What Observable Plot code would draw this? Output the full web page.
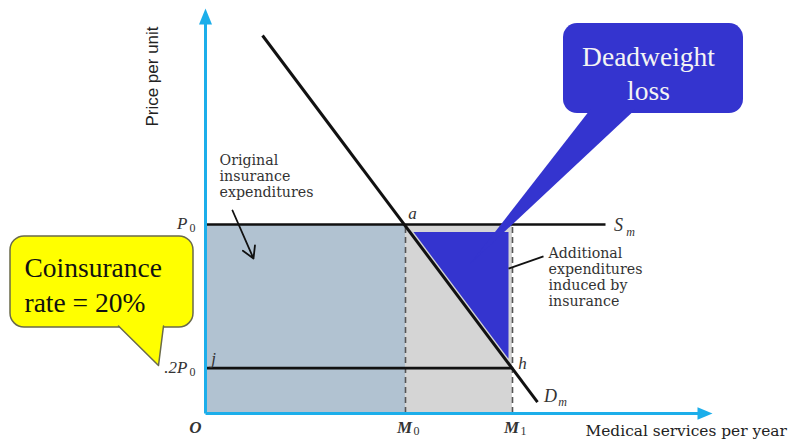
<!DOCTYPE html>
<html>
<head>
<meta charset="utf-8">
<script src="https://cdn.jsdelivr.net/npm/d3@7"></script>
<script src="https://cdn.jsdelivr.net/npm/@observablehq/plot@0.6"></script>
<style>
  html, body { margin: 0; padding: 0; background: #fff; }
  #chart svg { display: block; }
</style>
</head>
<body>
<div id="chart"></div>
<script>
// ---- values (quantity units on x, price units on y) ----
const quantityNames = ["M", "M"];
const quantitySubs = ["0", "1"];
const quantityValues = [4.0, 6.14];          // M0, M1
const priceNames = ["P", ".2P"];
const priceSubs = ["0", "0"];
const priceValues = [10, 2.4];               // P0, .2P0
const supplyEndQ = 8.0;                      // end of S_m line
const demandQ = [1.14, 6.64];                // D_m line
const demandP = [20, 0.6];
const dwlQ = [4.16, 6.06, 6.06];             // deadweight-loss triangle
const dwlP = [9.6, 9.6, 2.9];
const axisEndQ = 10.14;
const axisEndP = 21.43;

// ---- annotation texts and anchors ----
const axisTitleX = "Medical services per year";
const axisTitleY = "Price per unit";
const noteOriginal = ["Original", "insurance", "expenditures"];
const noteAdditional = ["Additional", "expenditures", "induced by", "insurance"];
const calloutDWL = ["Deadweight", "loss"];
const calloutCoins = ["Coinsurance", "rate = 20%"];
const pointLetters = ["a", "j", "h"];
const pointLetterQ = [4.14, 0.16, 6.34];
const pointLetterP = [10.58, 2.91, 2.65];
const curveNames = ["S", "D"];
const curveSubs = ["m", "m"];
const curveNameQ = [8.26, 6.9];
const curveNameP = [9.95, 0.9];
const curveSubQ = [8.5, 7.14];
const curveSubP = [9.58, 0.58];

// callout geometry (in chart units)
const dwlBoxQ = [7.16, 10.76], dwlBoxP = [15.87, 20.63];
const dwlTailQ = [7.7, 5.3, 8.6], dwlTailP = [16.1, 7.94, 16.1];
const coinBoxQ = [-3.9, -0.24], coinBoxP = [4.55, 9.37];
const coinTailQ = [-1.74, -0.94, -0.84], coinTailP = [4.63, 2.54, 4.63];
const leaderOrigQ = [0.54, 0.96], leaderOrigP = [10.74, 8.2];
const leaderAddQ = [6.06, 6.76], leaderAddP = [7.67, 8.31];

const rows = (xs, ys) => xs.map((x, i) => ({x, y: ys[i]}));
const [M0, M1] = quantityValues;
const [P0, P02] = priceValues;

const serif = "Liberation Serif, Times New Roman, serif";
const wideSerif = "DejaVu Serif, serif";
const axisBlue = "#1caeea";
const dwlBlue = "#3434cf";

const chart = Plot.plot({
  width: 790,
  height: 440,
  margin: 0,
  x: {domain: [0, 10], range: [205, 705], axis: null},
  y: {domain: [0, 20], range: [413, 35], axis: null},
  style: {background: "#fff", overflow: "visible"},
  marks: [
    // expenditure areas
    Plot.rect([0], {x1: 0, x2: M0, y1: 0, y2: P0, fill: "#b1c2d1"}),
    Plot.rect([0], {x1: M0, x2: M1, y1: 0, y2: P0, fill: "#d5d5d5"}),
    // deadweight-loss triangle
    Plot.line(rows(dwlQ, dwlP), {x: "x", y: "y", fill: dwlBlue, stroke: "none"}),
    // dashed guides
    Plot.ruleX(quantityValues, {y1: 0, y2: P0, stroke: "#555", strokeWidth: 1.6, strokeDasharray: "6,4"}),
    // price lines
    Plot.link([0], {x1: 0, x2: supplyEndQ, y1: P0, y2: P0, stroke: "#111", strokeWidth: 2.6}),
    Plot.link([0], {x1: 0, x2: M1, y1: P02, y2: P02, stroke: "#111", strokeWidth: 2.6}),
    // demand
    Plot.link([0], {x1: demandQ[0], x2: demandQ[1], y1: demandP[0], y2: demandP[1], stroke: "#111", strokeWidth: 3}),
    // axes
    Plot.link([0], {x1: 0, x2: 0, y1: 0, y2: axisEndP - 0.6, stroke: axisBlue, strokeWidth: 3}),
    Plot.link([0], {x1: 0, x2: axisEndQ - 0.2, y1: 0, y2: 0, stroke: axisBlue, strokeWidth: 3}),
    Plot.line(rows([-0.13, 0, 0.13], [axisEndP - 0.85, axisEndP, axisEndP - 0.85]), {x: "x", y: "y", fill: axisBlue, stroke: "none"}),
    Plot.line(rows([axisEndQ - 0.3, axisEndQ, axisEndQ - 0.3], [0.33, 0, -0.33]), {x: "x", y: "y", fill: axisBlue, stroke: "none"}),
    // axis titles
    Plot.text([axisTitleX], {x: 7.6, y: -0.95, text: d => d, textAnchor: "start", fontFamily: wideSerif, fontSize: 15.4, fill: "#222"}),
    Plot.text([axisTitleY], {x: -1.06, y: 17.83, text: d => d, rotate: -90, fontFamily: "Liberation Sans Narrow, Liberation Sans, sans-serif", fontSize: 17, fill: "#222"}),
    // tick-like labels
    Plot.text([0], {x: -0.2, y: -0.74, text: () => "O", fontFamily: serif, fontStyle: "italic", fontWeight: "bold", fontSize: 17, fill: "#333"}),
    Plot.text(quantityValues, {x: d => d - 0.02, y: -0.74, text: (d, i) => quantityNames[i], fontFamily: serif, fontStyle: "italic", fontWeight: "bold", fontSize: 17, fill: "#333"}),
    Plot.text(quantityValues, {x: d => d + 0.22, y: -0.95, text: (d, i) => quantitySubs[i], fontFamily: serif, fontSize: 12, fill: "#333"}),
    Plot.text(priceValues, {x: -0.36, y: d => d + 0.05, text: (d, i) => priceNames[i], textAnchor: "end", fontFamily: serif, fontStyle: "italic", fontSize: 17, fill: "#333"}),
    Plot.text(priceValues, {x: -0.26, y: d => d - 0.2, text: (d, i) => priceSubs[i], fontFamily: serif, fontSize: 12, fill: "#333"}),
    // point letters
    Plot.text(pointLetters, {x: (d, i) => pointLetterQ[i], y: (d, i) => pointLetterP[i], text: d => d, fontFamily: serif, fontStyle: "italic", fontSize: 17, fill: "#333"}),
    Plot.text(curveNames, {x: (d, i) => curveNameQ[i], y: (d, i) => curveNameP[i], text: d => d, fontFamily: serif, fontStyle: "italic", fontSize: 18, fill: "#333"}),
    Plot.text(curveSubs, {x: (d, i) => curveSubQ[i], y: (d, i) => curveSubP[i], text: d => d, fontFamily: serif, fontStyle: "italic", fontSize: 12, fill: "#333"}),
    // notes
    Plot.text([noteOriginal.join("\n")], {x: 0.28, y: 13.75, text: d => d, textAnchor: "start", lineAnchor: "top", lineHeight: 1.12, fontFamily: wideSerif, fontSize: 14.2, fill: "#333"}),
    Plot.arrow([0], {x1: leaderOrigQ[0], y1: leaderOrigP[0], x2: leaderOrigQ[1], y2: leaderOrigP[1], stroke: "#111", strokeWidth: 1.8, headLength: 11}),
    Plot.text([noteAdditional.join("\n")], {x: 6.86, y: 8.8, text: d => d, textAnchor: "start", lineAnchor: "top", lineHeight: 1.12, fontFamily: wideSerif, fontSize: 14.2, fill: "#333"}),
    Plot.link([0], {x1: leaderAddQ[0], y1: leaderAddP[0], x2: leaderAddQ[1], y2: leaderAddP[1], stroke: "#111", strokeWidth: 1.8}),
    // Deadweight loss callout
    Plot.rect([0], {x1: dwlBoxQ[0], x2: dwlBoxQ[1], y1: dwlBoxP[0], y2: dwlBoxP[1], rx: 14, fill: dwlBlue}),
    Plot.line(rows(dwlTailQ, dwlTailP), {x: "x", y: "y", fill: dwlBlue, stroke: "none"}),
    Plot.text([calloutDWL.join("\n")], {x: (dwlBoxQ[0] + dwlBoxQ[1]) / 2 - 0.1, y: 19.7, text: d => d, lineAnchor: "top", lineHeight: 1.25, fontFamily: serif, fontSize: 27.5, fill: "#f4f4f4"}),
    // Coinsurance callout
    Plot.rect([0], {x1: coinBoxQ[0], x2: coinBoxQ[1], y1: coinBoxP[0], y2: coinBoxP[1], rx: 14, fill: "#ffff00", stroke: "#6a6a4a", strokeWidth: 1.5}),
    Plot.line(rows(coinTailQ, coinTailP), {x: "x", y: "y", fill: "#ffff00", stroke: "#6a6a4a", strokeWidth: 1.5}),
    Plot.text([calloutCoins.join("\n")], {x: -3.62, y: 8.5, text: d => d, textAnchor: "start", lineAnchor: "top", lineHeight: 1.25, fontFamily: serif, fontSize: 27.5, fill: "#111"})
  ]
});
document.getElementById("chart").appendChild(chart);
</script>
</body>
</html>
